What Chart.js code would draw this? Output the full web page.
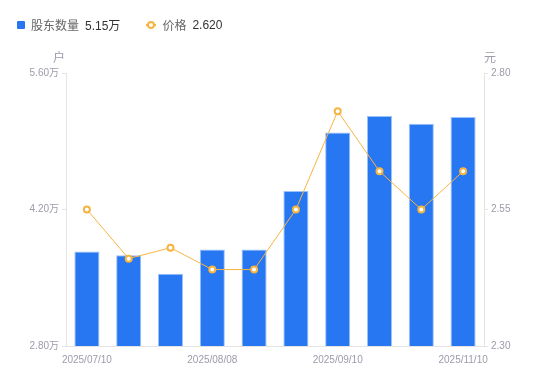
<!DOCTYPE html>
<html lang="zh">
<head>
  <meta charset="UTF-8" />
  <title>股东数量与价格</title>
  <script src="https://cdn.jsdelivr.net/npm/chart.js"></script>
  <style>
    body { margin: 0; background: #fff; font-family: 'Liberation Sans', 'Noto Sans CJK SC', sans-serif; }
    .wrap { position: relative; width: 550px; height: 381px; }
    .legend { position: absolute; left: 17px; top: 16px; font-size: 12px; display: flex; align-items: center; }
    .legend .item { display: flex; align-items: center; margin-right: 26px; }
    .legend .sq { width: 8px; height: 8px; background: #2776f2; border-radius: 1px; margin-right: 6px; }
    .legend .ln { position: relative; width: 10px; height: 2px; background: #f7b540; margin-right: 6px; }
    .legend .ln::after { content: ''; position: absolute; left: 1px; top: -3px; width: 4px; height: 4px;
      border: 2px solid #f7b540; border-radius: 50%; background: #fff; box-sizing: content-box; }
    .legend .name { color: #666; margin-right: 6px; }
    .legend .val { color: #333; }
  </style>
</head>
<body>
  <div class="wrap">
    <canvas id="chart" width="550" height="381"></canvas>
    <div class="legend">
      <div class="item"><span class="sq"></span><span class="name">股东数量</span><span class="val">5.15万</span></div>
      <div class="item"><span class="ln"></span><span class="name">价格</span><span class="val">2.620</span></div>
    </div>
  </div>

  <script>
    const dates = ["2025/07/10", "2025/07/20", "2025/07/31", "2025/08/08", "2025/08/20",
                   "2025/08/31", "2025/09/10", "2025/09/30", "2025/10/20", "2025/11/10"];
    const holders = [3.77, 3.73, 3.54, 3.79, 3.79, 4.39, 4.99, 5.16, 5.08, 5.15]; // 万户
    const prices = [2.55, 2.46, 2.48, 2.44, 2.44, 2.55, 2.73, 2.62, 2.55, 2.62];
    const holderTicks = [2.8, 4.2, 5.6];
    const priceTicks = [2.3, 2.55, 2.8];

    const tickFont = { family: "'Liberation Sans', 'Noto Sans CJK SC', sans-serif", size: 10 };
    const axisGray = "#e4e4e4";
    const labelGray = "#9c9cab";

    // units above the two value axes
    const unitTitles = {
      id: "unitTitles",
      afterDraw(chart) {
        const ctx = chart.ctx;
        const top = chart.chartArea.top;
        ctx.save();
        ctx.font = "12px 'Noto Sans CJK SC', sans-serif";
        ctx.fillStyle = labelGray;
        ctx.textBaseline = "middle";
        ctx.textAlign = "center";
        ctx.fillText("户", chart.scales.y.right - 7, top - 16);
        ctx.fillText("元", chart.scales.y1.left + 6, top - 16);
        ctx.restore();
      }
    };

    new Chart(document.getElementById("chart"), {
      data: {
        labels: dates,
        datasets: [
          {
            type: "line",
            label: "价格",
            data: prices,
            yAxisID: "y1",
            borderColor: "#f7b540",
            borderWidth: 1,
            pointRadius: 3,
            pointBorderWidth: 2,
            pointBackgroundColor: "#fff",
            pointBorderColor: "#f7b540",
            tension: 0,
            order: 0
          },
          {
            type: "bar",
            label: "股东数量",
            data: holders,
            yAxisID: "y",
            backgroundColor: "#2776f2",
            borderColor: "#9cc2fa",
            borderWidth: 1,
            barPercentage: 0.6,
            categoryPercentage: 1,
            order: 1
          }
        ]
      },
      options: {
        responsive: false,
        animation: false,
        layout: { padding: { top: 73, left: 0, right: 0, bottom: 0 } },
        plugins: { legend: { display: false }, tooltip: { enabled: false } },
        scales: {
          x: {
            grid: { display: false },
            border: { color: axisGray },
            ticks: {
              autoSkip: false,
              maxRotation: 0,
              padding: 0,
              color: labelGray,
              font: tickFont,
              callback(v, i) { return i % 3 === 0 ? dates[i] : ""; }
            },
            afterFit(s) { s.height = 35; }
          },
          y: {
            position: "left",
            min: 2.8,
            max: 5.6,
            grid: { drawOnChartArea: false, color: axisGray, tickLength: 4 },
            border: { color: axisGray },
            ticks: { color: labelGray, font: tickFont, padding: 3,
                     callback: v => v.toFixed(2) + "万" },
            afterBuildTicks(s) { s.ticks = holderTicks.map(v => ({ value: v })); },
            afterFit(s) { s.width = 66; }
          },
          y1: {
            position: "right",
            min: 2.3,
            max: 2.8,
            grid: { drawOnChartArea: false, color: axisGray, tickLength: 4 },
            border: { color: axisGray },
            ticks: { color: labelGray, font: tickFont, padding: 3,
                     callback: v => v.toFixed(2) },
            afterBuildTicks(s) { s.ticks = priceTicks.map(v => ({ value: v })); },
            afterFit(s) { s.width = 66; }
          }
        }
      },
      plugins: [unitTitles]
    });
  </script>
</body>
</html>
